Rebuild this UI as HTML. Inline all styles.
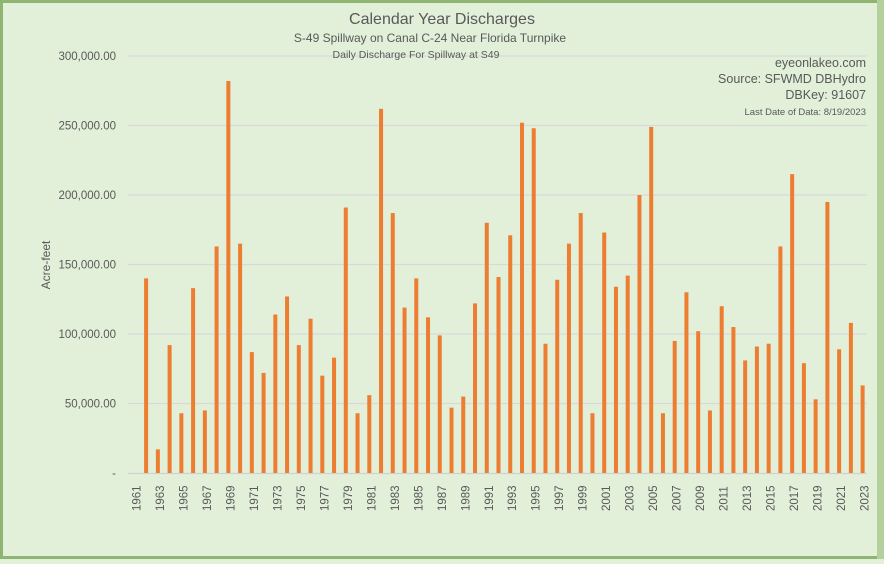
<!DOCTYPE html>
<html><head><meta charset="utf-8"><style>
html,body{margin:0;padding:0;}
body{width:884px;height:559px;overflow:hidden;background:#e2efd9;}
svg text{font-family:"Liberation Sans",sans-serif;fill:#595959;}
</style></head><body>
<svg width="884" height="559" xmlns="http://www.w3.org/2000/svg">
<rect x="0" y="0" width="884" height="559" fill="#e2efd9"/>
<rect x="1.5" y="1.5" width="881" height="556" fill="none" stroke="#8fb573" stroke-width="3"/>
<rect x="877" y="0" width="7" height="559" fill="#b4d19d"/>
<g id="grid" stroke="#d9d9d9" stroke-width="1.3"></g>
<line x1="128" y1="473.5" x2="867" y2="473.5" stroke="#d0d0d0" stroke-width="1.3"/>
<g id="bars" fill="#ed7d31"></g>
<g id="yl" font-size="11.5" text-anchor="end"></g>
<g id="xl" font-size="11.5"></g>
<text x="442" y="24" font-size="16" text-anchor="middle">Calendar Year Discharges</text>
<text x="430" y="42" font-size="12" text-anchor="middle">S-49 Spillway on Canal C-24 Near Florida Turnpike</text>
<text x="416" y="58" font-size="10.5" text-anchor="middle">Daily Discharge For Spillway at S49</text>
<text x="866" y="67" font-size="12.5" text-anchor="end">eyeonlakeo.com</text>
<text x="866" y="83" font-size="12.5" text-anchor="end">Source: SFWMD DBHydro</text>
<text x="866" y="99" font-size="12.5" text-anchor="end">DBKey: 91607</text>
<text x="866" y="115" font-size="9.5" text-anchor="end">Last Date of Data: 8/19/2023</text>
<text transform="translate(50,265) rotate(-90)" font-size="12" text-anchor="middle">Acre-feet</text>
</svg>
<script>
var v=[0,140,17,92,43,133,45,163,282,165,87,72,114,127,92,111,70,83,191,43,56,262,187,119,140,112,99,47,55,122,180,141,171,252,248,93,139,165,187,43,173,134,142,200,249,43,95,130,102,45,120,105,81,91,93,163,215,79,53,195,89,108,63];
var ns="http://www.w3.org/2000/svg";
function el(t,a,p,txt){var e=document.createElementNS(ns,t);for(var k in a)e.setAttribute(k,a[k]);if(txt)e.textContent=txt;document.getElementById(p).appendChild(e);}
var y0=473,sc=417/300;
var labs=["-","50,000.00","100,000.00","150,000.00","200,000.00","250,000.00","300,000.00"];
for(var i=0;i<=6;i++){var y=y0-i*50*sc;if(i>0)el("line",{x1:128,x2:867,y1:y,y2:y},"grid");el("text",{x:116,y:y+4},"yl",labs[i]);}
var x0=128.5,w=(867-127)/63;
for(var i=0;i<63;i++){var cx=x0+w*(i+0.5);var h=v[i]*sc;if(h>0)el("rect",{x:cx-2,y:y0-h,width:4,height:h},"bars");
if(i%2==0){el("text",{transform:"translate("+(cx+6)+",511) rotate(-90)"},"xl",String(1961+i));}}
</script>
</body></html>
